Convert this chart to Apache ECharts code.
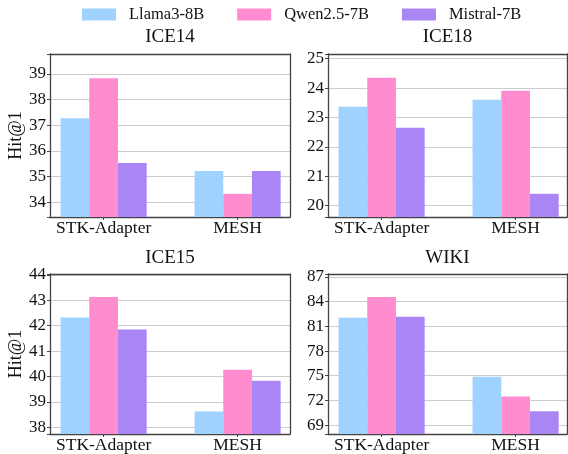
<!DOCTYPE html>
<html>
<head>
<meta charset="utf-8">
<script src="https://cdn.jsdelivr.net/npm/echarts@6/dist/echarts.min.js"></script>
<style>html,body{margin:0;padding:0;background:#fff}#c{width:568px;height:454px}</style>
</head>
<body>
<div id="c"></div>
<script>
const models = ['Llama3-8B', 'Qwen2.5-7B', 'Mistral-7B'];
const methods = ['STK-Adapter', 'MESH'];
const datasets = ['ICE14', 'ICE18', 'ICE15', 'WIKI'];
// values per dataset: [model][method]
const ice14 = [[37.27, 35.22], [38.83, 34.33], [35.53, 35.22]];
const ice18 = [[23.36, 23.60], [24.35, 23.91], [22.65, 20.40]];
const ice15 = [[42.32, 38.62], [43.13, 40.26], [41.85, 39.83]];
const wiki  = [[82.05, 74.87], [84.57, 72.47], [82.17, 70.68]];
const ticks14 = [34, 35, 36, 37, 38, 39];
const ticks18 = [20, 21, 22, 23, 24, 25];
const ticks15 = [38, 39, 40, 41, 42, 43, 44];
const ticksWiki = [69, 72, 75, 78, 81, 84, 87];

const values = [ice14, ice18, ice15, wiki];
const tickSets = [ticks14, ticks18, ticks15, ticksWiki];
const yRanges = [[33.43, 39.77], [19.61, 25.16], [37.73, 44.04], [67.92, 87.36]];
const colors = ['#a0d2ff', '#ff8ccf', '#a986f4'];
const FONT = 'Liberation Serif';

const grids = [
  {left: 50, top: 54, width: 240, height: 163},
  {left: 328, top: 54, width: 239, height: 163},
  {left: 50, top: 274, width: 240, height: 162},
  {left: 328, top: 274, width: 239, height: 162}
];

const option = {
  animation: false,
  color: colors,
  textStyle: {fontFamily: FONT},
  legend: {
    top: 6, left: 82, padding: 0, itemWidth: 34, itemHeight: 12, itemGap: 33,
    icon: 'rect',
    textStyle: {fontFamily: FONT, fontSize: 16.5, color: '#111', padding: [0, 0, 0, 8]},
    data: models
  },
  title: datasets.map((d, i) => ({
    text: d,
    left: grids[i].left + grids[i].width / 2,
    top: i < 2 ? 28 : 249,
    textAlign: 'center',
    padding: 0,
    textStyle: {fontFamily: FONT, fontSize: 19, fontWeight: 'normal', color: '#111'}
  })),
  grid: grids.map(g => Object.assign({show: false}, g)),
  xAxis: [],
  yAxis: [],
  series: []
};

grids.forEach((g, i) => {
  const lineStyle = {color: '#444', width: 1.3};
  option.xAxis.push({
    type: 'value', gridIndex: i, position: 'bottom',
    min: -0.4, max: -0.4 + g.width / 134,
    axisLine: {show: true, onZero: false, lineStyle},
    axisTick: {show: true, length: 3, customValues: [0, 1], lineStyle: {color: '#444'}},
    axisLabel: {
      customValues: [0, 1], margin: 2,
      formatter: v => methods[Math.round(v)] || '',
      fontFamily: FONT, fontSize: 17.5, color: '#111'
    },
    splitLine: {show: false}
  });
  option.xAxis.push({
    type: 'value', gridIndex: i, position: 'top',
    min: -0.4, max: -0.4 + g.width / 134,
    axisLine: {show: true, onZero: false, lineStyle},
    axisTick: {show: false}, axisLabel: {show: false}, splitLine: {show: false}
  });
  option.yAxis.push({
    type: 'value', gridIndex: i, position: 'left',
    min: yRanges[i][0], max: yRanges[i][1],
    name: (i % 2 === 0) ? 'Hit@1' : '',
    nameLocation: 'middle', nameRotate: 90, nameGap: 19,
    nameTextStyle: {fontFamily: FONT, fontSize: 18, color: '#111'},
    axisLine: {show: true, onZero: false, lineStyle},
    axisTick: {show: true, length: 3, lineStyle: {color: '#444'}},
    axisLabel: {
      margin: 4,
      fontFamily: FONT, fontSize: 17, color: '#111',
      formatter: v => tickSets[i].indexOf(Math.round(v * 100) / 100) >= 0 ? String(Math.round(v)) : ''
    },
    splitLine: {show: true, lineStyle: {color: '#cccccc', type: 'solid', width: 1}},
    splitNumber: 5,
    showMinLabel: false, showMaxLabel: false
  });
  option.yAxis.push({
    type: 'value', gridIndex: i, position: 'right',
    min: yRanges[i][0], max: yRanges[i][1],
    axisLine: {show: true, onZero: false, lineStyle},
    axisTick: {show: false}, axisLabel: {show: false}, splitLine: {show: false}
  });
});

values.forEach((vals, gi) => {
  models.forEach((m, mi) => {
    option.series.push({
      type: 'bar', name: m, z: 3,
      xAxisIndex: gi * 2, yAxisIndex: gi * 2,
      barWidth: 28.7, barGap: '0%',
      itemStyle: {color: colors[mi]},
      data: methods.map((_, k) => [k, vals[mi][k]])
    });
  });
});

const chart = echarts.init(document.getElementById('c'), null, {renderer: 'canvas'});
chart.setOption(option);
</script>
</body>
</html>
